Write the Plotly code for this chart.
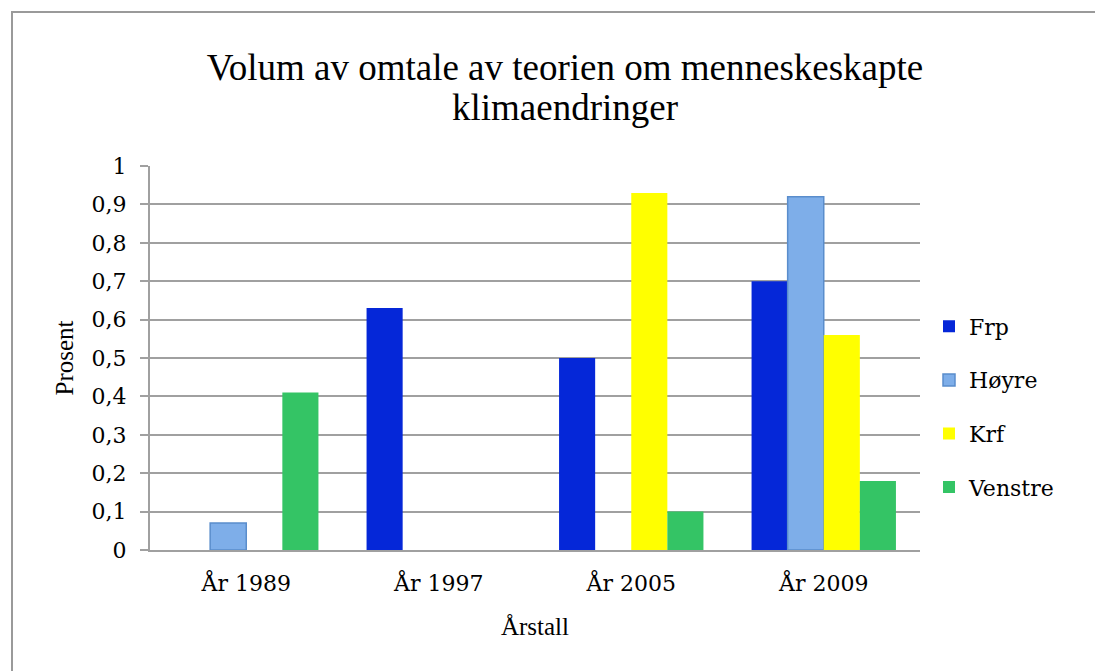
import plotly.graph_objects as go

categories = ["År 1989", "År 1997", "År 2005", "År 2009"]
frp = [0, 0.63, 0.50, 0.70]
hoyre = [0.07, 0, 0, 0.92]
krf = [0, 0, 0.93, 0.56]
venstre = [0.41, 0, 0.10, 0.18]

series_names = ["Frp", "Høyre", "Krf", "Venstre"]
series_values = [frp, hoyre, krf, venstre]
colors = ["#0527d8", "#7eaee9", "#ffff00", "#34c465"]
line_colors = ["rgba(0,0,0,0)", "#5a8dcc", "rgba(0,0,0,0)", "rgba(0,0,0,0)"]
line_widths = [0, 1.5, 0, 0]

fig = go.Figure()
for name, vals, c, lc, lw in zip(series_names, series_values, colors, line_colors, line_widths):
    fig.add_trace(go.Bar(
        x=categories, y=vals, name=name, legendgroup=name,
        marker=dict(color=c, line=dict(color=lc, width=[lw if v > 0 else 0 for v in vals])),
    ))

OFF = 8  # page body margin
W, H = 1103 - OFF, 671 - OFF
L, R, T, B = 150 - OFF, 1103 - 920, 166 - OFF, 671 - 550
pw = W - L - R
ph = H - T - B

def px_x(p):
    return (p - OFF - L) / pw

def px_y(p):
    return (H - B - (p - OFF)) / ph

serif = "Liberation Serif, Times New Roman, serif"
tickfont = "DejaVu Serif, serif"

fig.update_layout(
    width=W, height=H,
    margin=dict(l=L, r=R, t=T, b=B),
    paper_bgcolor="white", plot_bgcolor="white",
    separators=", ",
    barmode="group", bargap=0.25, bargroupgap=0,
    title=dict(text="Volum av omtale av teorien om menneskeskapte",
               font=dict(family=serif, size=37, color="black"),
               x=px_x(565), xref="paper", xanchor="center",
               y=1 - (67 - OFF) / H, yref="container", yanchor="middle"),
    showlegend=True,
    legend=dict(x=px_x(929), xanchor="left", y=px_y(407), yanchor="middle",
                font=dict(family=tickfont, size=22, color="black"),
                tracegroupgap=22, bgcolor="rgba(0,0,0,0)", itemwidth=30),
    xaxis=dict(
        showline=True, linecolor="#a0a0a0", linewidth=2,
        ticks="", tickfont=dict(family=tickfont, size=22, color="black"),
        ticklabelstandoff=13,
        title=dict(text="Årstall", font=dict(family=serif, size=25, color="black"), standoff=22),
        showgrid=False,
    ),
    yaxis=dict(
        range=[0, 1], dtick=0.1, tick0=0,
        showline=True, linecolor="#a0a0a0", linewidth=2,
        ticks="outside", ticklen=8, tickcolor="#a0a0a0", tickwidth=2,
        tickfont=dict(family=tickfont, size=22, color="black"),
        ticklabelstandoff=9,
        showgrid=True, gridcolor="#a0a0a0", gridwidth=2,
        zeroline=False,
        title=dict(text="Prosent", font=dict(family=serif, size=25, color="black"), standoff=11),
    ),
    annotations=[dict(
        text="klimaendringer", xref="paper", yref="paper",
        x=px_x(565), y=px_y(107), xanchor="center", yanchor="middle",
        showarrow=False, font=dict(family=serif, size=37, color="black"),
    )],
    shapes=[dict(
        type="rect", xref="paper", yref="paper",
        x0=px_x(12), x1=px_x(1130), y0=px_y(700), y1=px_y(12),
        line=dict(color="#9a9a9a", width=2), fillcolor="rgba(0,0,0,0)", layer="below",
    )],
)

fig.write_html("out.html")
